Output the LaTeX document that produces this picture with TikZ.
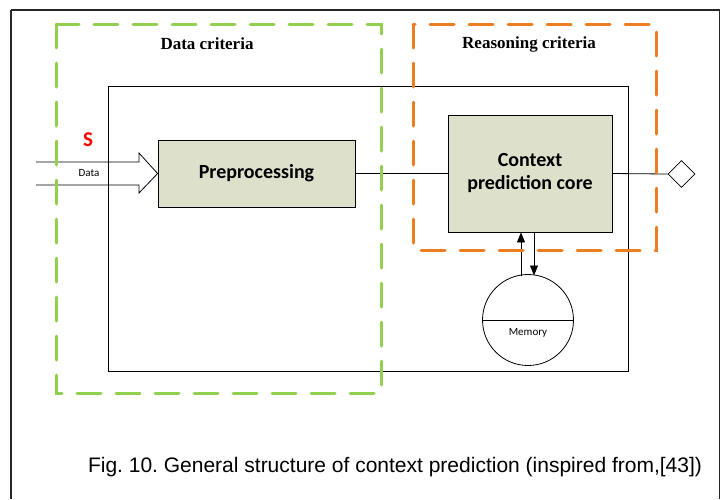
\documentclass[tikz,border=0pt]{standalone}
\usepackage{fontspec}
\setmainfont{Liberation Serif}
\newfontfamily\calib{Carlito}
\newfontfamily\arialf{Liberation Sans}
\usetikzlibrary{arrows.meta,shapes.geometric}
\definecolor{critgreen}{RGB}{146,208,80}
\definecolor{critorange}{RGB}{237,125,33}
\definecolor{boxfill}{RGB}{221,225,204}
\frenchspacing
\begin{document}
\begin{tikzpicture}[x=1pt,y=-1pt,
  procbox/.style={draw=black,fill=boxfill,line width=0.8pt,inner sep=0pt,
    font=\calib\bfseries\fontsize{20}{23}\selectfont,align=center},
  critframe/.style={line width=3pt,dash pattern=on 24pt off 15pt,line cap=round},
  crittitle/.style={font=\bfseries\fontsize{17}{20}\selectfont},
  smalllbl/.style={font=\calib\fontsize{11}{13}\selectfont,inner sep=0pt},
  wire/.style={draw=black,line width=0.8pt}]
\useasboundingbox (0,0) rectangle (722,499);
% outer frame
\draw[line width=1.6pt,draw=black!85] (11,10) -- (719.5,10);
\draw[line width=1.6pt,draw=black!85] (11,10) -- (11,499);
\draw[line width=1.6pt,draw=black!85] (719.5,10) -- (719.5,499);
% system boundary
\draw[line width=0.8pt] (108,86) rectangle (628,371);
% blocks
\node[procbox,minimum width=197pt,minimum height=67pt] (pre) at (256.5,173.5) {Preprocessing};
\node[procbox,minimum width=164pt,minimum height=117pt] (core) at (530,173.5) {Context\\prediction core};
\node[draw=black,line width=0.8pt,diamond,aspect=1,minimum size=27pt,inner sep=0pt] (out) at (681.5,174) {};
\node[draw=black,line width=0.8pt,circle,minimum size=91pt,inner sep=0pt] (mem) at (528,320) {};
\draw[line width=0.8pt] (mem.west) -- (mem.east);
\node[smalllbl] (memlbl) at (528,333) {Memory};
% input arrow (hollow block arrow)
\coordinate (in1) at (36,162);
\coordinate (in2) at (36,185);
\draw[line width=0.8pt] (in1) -- (139,162) -- (139,153) -- (pre.west) -- (139,193) -- (139,185) -- (in2);
\node[smalllbl] (dlbl) at (89,173) {Data};
\node[font=\calib\bfseries\fontsize{21}{24}\selectfont,text=red,inner sep=0pt] (slbl) at (88,140) {S};
% connections
\draw[wire] (pre.east) -- (core.west);
\draw[wire] (core.east) -- (out.west);
\draw[wire,-{Triangle[length=10pt,width=8pt]}] (mem.north -| 521,0) ++(0,2) coordinate (mu) (mu) -- (core.south -| mu);
\draw[wire,-{Triangle[length=10pt,width=8pt]}] (core.south -| 534,0) coordinate (md) (md) -- (534,275.5);
% criteria regions
\draw[critframe,critgreen] (56,24) rectangle (381,393);
\draw[critframe,critorange] (413,24) rectangle (656,250);
\node[crittitle] (tdata) at (207,44) {Data criteria};
\node[crittitle] (treas) at (529,44) {Reasoning criteria};
% caption
\node[font=\arialf\fontsize{21}{25}\selectfont] (cap) at (395,467) {Fig. 10. General structure of context prediction (inspired from,[43])};
\end{tikzpicture}
\end{document}
